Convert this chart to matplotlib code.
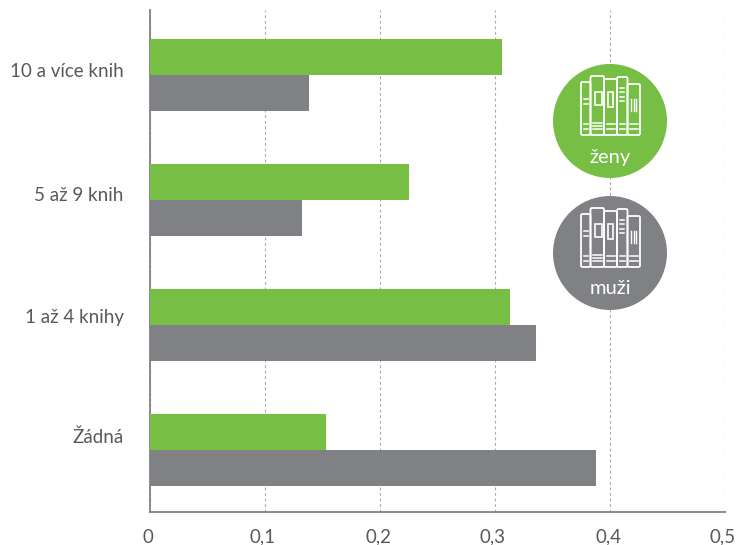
from matplotlib import pyplot as plt
from matplotlib.patches import Circle, Rectangle, FancyBboxPatch
from matplotlib.transforms import ScaledTranslation

plt.rcParams['font.family'] = ['Lato', 'DejaVu Sans']

categories = ['Žádná', '1 až 4 knihy', '5 až 9 knih', '10 a více knih']
zeny = [0.153, 0.313, 0.225, 0.306]
muzi = [0.388, 0.336, 0.132, 0.138]
xticks = [0, 0.1, 0.2, 0.3, 0.4, 0.5]
xticklabels = ['0', '0,1', '0,2', '0,3', '0,4', '0,5']

GREEN = '#76be44'
GRAY = '#808184'
TEXT = '#58595b'
W, H = 742, 545

fig = plt.figure(figsize=(W / 100, H / 100), dpi=100)
ax = fig.add_axes([150 / W, 1 - 512 / H, 575 / W, 502 / H])

pos = range(len(categories))
h = 0.289
ax.barh([p + h / 2 for p in pos], zeny, height=h, color=GREEN, zorder=3)
ax.barh([p - h / 2 for p in pos], muzi, height=h, color=GRAY, zorder=3)

ax.set_xlim(0, 0.5)
ax.set_ylim(-0.496, 3.52)
ax.set_xticks(xticks)
ax.set_xticklabels(xticklabels, fontsize=13.5, color=TEXT)
# the labels in the original sit a little above the bar centres
ax.set_yticks([0.112, 1.072, 2.048, 3.04])
ax.set_yticklabels(categories, fontsize=13.5, color=TEXT)
ax.tick_params(axis='x', length=0, pad=12)
ax.tick_params(axis='y', length=0, pad=19)
# tick_params resets the label transforms, so shift after it
shift = ScaledTranslation(-2 / 100, 0, fig.dpi_scale_trans)
for t in ax.get_xticklabels():
    t.set_transform(t.get_transform() + shift)
ax.grid(axis='x', color='#a7a9ac', linestyle=(0, (2.5, 2.5)), linewidth=0.8, zorder=1)
ax.grid(axis='y', visible=False)
for s in ['top', 'right']:
    ax.spines[s].set_visible(False)
for s in ['left', 'bottom']:
    ax.spines[s].set_color('#808184')
    ax.spines[s].set_linewidth(1.3)

# overlay in pixel coordinates for the two badges
ov = fig.add_axes([0, 0, 1, 1], zorder=5)
ov.set_xlim(0, W)
ov.set_ylim(H, 0)
ov.axis('off')


def book(cx, cy, x0, x1, top, rows):
    bottom = 14
    ov.add_patch(FancyBboxPatch((cx + x0, cy + top), x1 - x0, bottom - top,
                                boxstyle='round,pad=0,rounding_size=1.5',
                                fc='none', ec='white', lw=1.3))
    for dy in rows:
        ov.plot([cx + x0 + 2.5, cx + x1 - 2.5], [cy + dy, cy + dy], color='white', lw=1.1)


def badge(cx, cy, color, label):
    ov.add_patch(Circle((cx, cy), 57, fc=color, ec='none'))
    book(cx, cy, -29, -19.5, -39, (2.5, 7.5))
    book(cx, cy, -19.5, -6, -45, (2, 5, 8))
    book(cx, cy, -6, 7, -42, (2.5, 7.5))
    book(cx, cy, 7, 17.5, -44, (2.5, 7.5))
    book(cx, cy, 17.5, 30, -37, (2.5, 7.5))
    # spine decorations
    ov.add_patch(Rectangle((cx - 15, cy - 29), 7, 13, fc='none', ec='white', lw=1.2))
    ov.add_patch(Rectangle((cx - 2, cy - 29), 5, 15, fc='none', ec='white', lw=1.2))
    for y in (-22, -17):
        ov.plot([cx - 26, cx - 22], [cy + y, cy + y], color='white', lw=1.1)
    for y in (-33, -29, -24, -20):
        ov.plot([cx + 10, cx + 13.5], [cy + y, cy + y], color='white', lw=1.1)
    for x in (21, 23.5, 26):
        ov.plot([cx + x, cx + x], [cy - 22, cy - 10], color='white', lw=1)
    ov.text(cx, cy + 36, label, color='white', fontsize=14.5, ha='center', va='center')


badge(610, 121, GREEN, 'ženy')
badge(610, 253, GRAY, 'muži')

fig.savefig('out.png', dpi=100)
